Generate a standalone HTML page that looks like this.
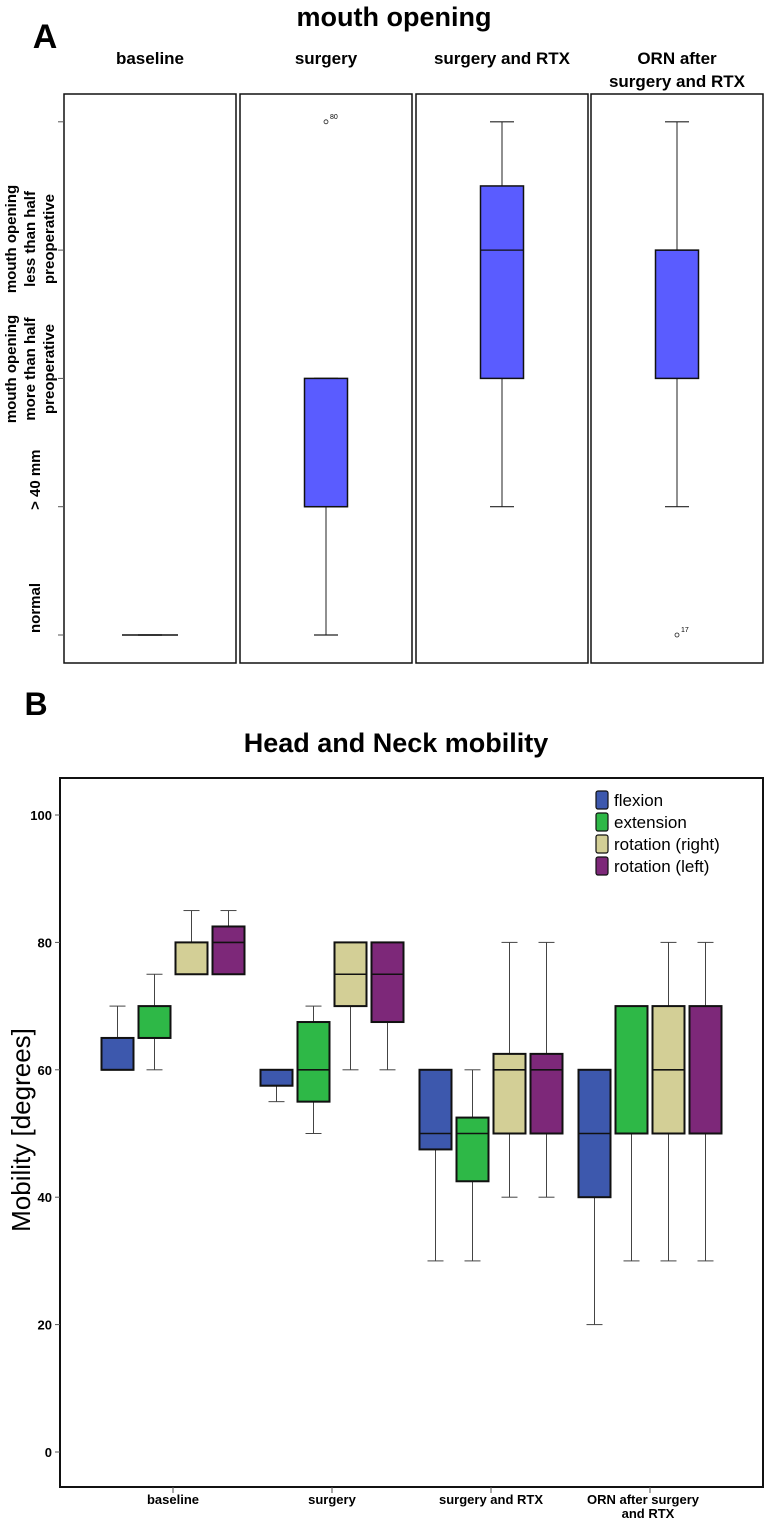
<!DOCTYPE html>
<html><head><meta charset="utf-8"><style>
html,body{margin:0;padding:0;background:#fff;}
svg{display:block;font-family:"Liberation Sans",Arial,sans-serif;}
</style></head><body>
<svg id="c" width="774" height="1527" viewBox="0 0 774 1527">
<g id="pa">
<text x="45" y="48" font-size="34" font-weight="bold" text-anchor="middle">A</text>
<text x="394" y="26" font-size="27" font-weight="bold" text-anchor="middle">mouth opening</text>
</g>
<g id="pb">
<text x="36" y="715" font-size="32" font-weight="bold" text-anchor="middle">B</text>
<text x="396" y="752" font-size="27" font-weight="bold" text-anchor="middle">Head and Neck mobility</text>
<text transform="translate(30,1130) rotate(-90)" font-size="26" text-anchor="middle">Mobility [degrees]</text>
</g>
</svg>
<script>
// Panel A data
const aCats=["baseline","surgery","surgery and RTX","ORN after|surgery and RTX"];
const aLevels=["normal","> 40 mm","mouth opening|more than half|preoperative","mouth opening|less than half|preoperative"];
const aWLo=[1,1,2,2];
const aQ1=[1,2,3,3];
const aMed=[1,2,4,4];
const aQ3=[1,3,4.5,4];
const aWHi=[1,3,5,5];
const aOutVal=[null,5,null,1];
const aOutLbl=["","80","","17"];
// Panel B data
const bCats=["baseline","surgery","surgery and RTX","ORN after surgery|and RTX"];
const bSeries=["flexion","extension","rotation (right)","rotation (left)"];
const bColors=["#3d58ad","#2eb847","#d3cf96","#7d2879"];
const bTicks=[0,20,40,60,80,100];
// [category][series]
const bWLo=[[60,60,75,75],[55,50,60,60],[30,30,40,40],[20,30,30,30]];
const bQ1=[[60,65,75,75],[57.5,55,70,67.5],[47.5,42.5,50,50],[40,50,50,50]];
const bMed=[[60,65,75,80],[57.5,60,75,75],[50,50,60,60],[50,50,60,50]];
const bQ3=[[65,70,80,82.5],[60,67.5,80,80],[60,52.5,62.5,62.5],[60,70,70,70]];
const bWHi=[[70,75,85,85],[60,70,80,80],[60,60,80,80],[60,70,80,80]];

const NS="http://www.w3.org/2000/svg";
function mk(parent,tag,attrs){const e=document.createElementNS(NS,tag);for(const k in attrs)e.setAttribute(k,attrs[k]);parent.appendChild(e);return e;}
const pa=document.getElementById('pa'), pb=document.getElementById('pb');

// ---- Panel A
const aTop=94,aBot=663;
const ay=v=>635-(v-1)*128.3;
const panelX=[64,240,416,591], panelW=172;
for(let i=0;i<4;i++){
  const x0=panelX[i], cx=x0+panelW/2;
  const fr=mk(pa,'rect',{x:x0,y:aTop,width:panelW,height:aBot-aTop,fill:'none',stroke:'#111','stroke-width':1.5});
  
  
  const lines=aCats[i].split('|');
  lines.forEach((l,j)=>{const t=mk(pa,'text',{x:cx,y:64+j*23,'font-size':17,'font-weight':'bold','text-anchor':'middle'});t.textContent=l;
    
    });
  const g=mk(pa,'g',{});
  
  
  const bw=43, wc=24;
  mk(g,'line',{x1:cx,x2:cx,y1:ay(aWLo[i]),y2:ay(aQ1[i]),stroke:'#222','stroke-width':1});
  mk(g,'line',{x1:cx,x2:cx,y1:ay(aQ3[i]),y2:ay(aWHi[i]),stroke:'#222','stroke-width':1});
  mk(g,'line',{x1:cx-wc/2,x2:cx+wc/2,y1:ay(aWLo[i]),y2:ay(aWLo[i]),stroke:'#222','stroke-width':1.2});
  mk(g,'line',{x1:cx-wc/2,x2:cx+wc/2,y1:ay(aWHi[i]),y2:ay(aWHi[i]),stroke:'#222','stroke-width':1.2});
  if(aQ3[i]>aQ1[i]) mk(g,'rect',{x:cx-bw/2,y:ay(aQ3[i]),width:bw,height:ay(aQ1[i])-ay(aQ3[i]),fill:'#5a5cff',stroke:'#111','stroke-width':1.5});
  if(aQ3[i]===aQ1[i]) mk(g,'line',{x1:cx-28,x2:cx+28,y1:ay(aMed[i]),y2:ay(aMed[i]),stroke:'#111','stroke-width':1.5});
  else mk(g,'line',{x1:cx-bw/2,x2:cx+bw/2,y1:ay(aMed[i]),y2:ay(aMed[i]),stroke:'#111','stroke-width':1.3});
  if(aOutVal[i]!==null){
    const oc=mk(g,'circle',{cx:cx,cy:ay(aOutVal[i]),r:2,fill:'none',stroke:'#222','stroke-width':0.8});
    
    
    const ot=mk(g,'text',{x:cx+4,y:ay(aOutVal[i])-3,'font-size':7});ot.textContent=aOutLbl[i];
  }
}
for(let k=0;k<5;k++){mk(pa,'line',{x1:58,x2:64,y1:ay(k+1),y2:ay(k+1),stroke:'#555','stroke-width':1});}
aLevels.forEach((lab,k)=>{
  const lines=lab.split('|');
  const cy=ay(k+1)-27;
  const t=mk(pa,'text',{transform:`translate(${lines.length>1?16:40},${lines.length>1?(k===2?369:239):cy}) rotate(-90)`,'font-size':15,'font-weight':'bold','text-anchor':'middle'});
  
  
  lines.forEach((l,j)=>{const s=mk(t,'tspan',{x:0,dy:j===0?0:19});s.textContent=l;});
});

// ---- Panel B
const by=v=>1452-v*6.37;
const bx0=60,bx1=763,btop=778,bbot=1487;
const bf=mk(pb,'rect',{x:bx0,y:btop,width:bx1-bx0,height:bbot-btop,fill:'none',stroke:'#111','stroke-width':2});


bTicks.forEach(v=>{
  mk(pb,'line',{x1:bx0-5,x2:bx0,y1:by(v),y2:by(v),stroke:'#555'});
  const t=mk(pb,'text',{x:bx0-8,y:by(v)+5,'font-size':13,'font-weight':'bold','text-anchor':'end'});t.textContent=v;
  
  
});
const gc=i=>173+i*159;
bCats.forEach((c,i)=>{
  mk(pb,'line',{x1:gc(i),x2:gc(i),y1:bbot,y2:bbot+6,stroke:'#555'});
  c.split('|').forEach((l,j)=>{const t=mk(pb,'text',{x:gc(i)-(j===0&&i===3?5:0)-(i===3?2:0),y:1504+j*14,'font-size':13,'font-weight':'bold','text-anchor':'middle'});t.textContent=l;
    
    });
  bSeries.forEach((s,k)=>{
    const cx=gc(i)+(k-1.5)*37, bw=32, wc=16;
    const g=mk(pb,'g',{});
    
    
    mk(g,'line',{x1:cx,x2:cx,y1:by(bWLo[i][k]),y2:by(bWHi[i][k]),stroke:'#444','stroke-width':1});
    mk(g,'line',{x1:cx-wc/2,x2:cx+wc/2,y1:by(bWLo[i][k]),y2:by(bWLo[i][k]),stroke:'#444','stroke-width':1});
    mk(g,'line',{x1:cx-wc/2,x2:cx+wc/2,y1:by(bWHi[i][k]),y2:by(bWHi[i][k]),stroke:'#444','stroke-width':1});
    mk(g,'rect',{x:cx-bw/2,y:by(bQ3[i][k]),width:bw,height:by(bQ1[i][k])-by(bQ3[i][k]),fill:bColors[k],stroke:'#111','stroke-width':2});
    mk(g,'line',{x1:cx-bw/2,x2:cx+bw/2,y1:by(bMed[i][k]),y2:by(bMed[i][k]),stroke:'#111','stroke-width':1.6});
  });
});
bSeries.forEach((s,k)=>{
  const g=mk(pb,'g',{});
  
  
  const y=791+k*22;
  mk(g,'rect',{x:596,y:y,width:12,height:18,rx:2,fill:bColors[k],stroke:'#111','stroke-width':1.2});
  const t=mk(g,'text',{x:614,y:y+15,'font-size':17});t.textContent=s;
});
</script>
</body></html>
